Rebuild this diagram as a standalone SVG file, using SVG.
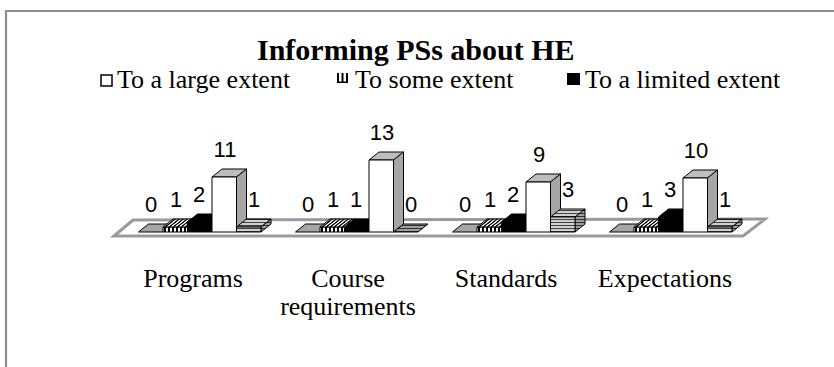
<svg xmlns="http://www.w3.org/2000/svg" width="834" height="367" viewBox="0 0 834 367">
  <defs>
    <pattern id="vstripe" patternUnits="userSpaceOnUse" width="4" height="4">
      <rect width="4" height="4" fill="#fff"/>
      <rect width="2" height="4" fill="#000"/>
    </pattern>
    <!-- same stripes, sheared to run along the depth direction of top faces -->
    <pattern id="vstripeTop" patternUnits="userSpaceOnUse" width="4" height="4" patternTransform="skewX(-51.34)">
      <rect width="4" height="4" fill="#fff"/>
      <rect width="2" height="4" fill="#000"/>
    </pattern>
    <pattern id="hstripe" patternUnits="userSpaceOnUse" width="4" height="3">
      <rect width="4" height="3" fill="#d0d0d0"/>
      <rect width="4" height="1" fill="#404040"/>
    </pattern>
    <pattern id="hstripeDark" patternUnits="userSpaceOnUse" width="4" height="3">
      <rect width="4" height="3" fill="#a0a0a0"/>
      <rect width="4" height="1" fill="#303030"/>
    </pattern>
  </defs>
  <style>
    .frame { fill: none; stroke: #8e8e8e; stroke-width: 2.2; }
    .title { font-family: "Liberation Serif", "Times New Roman", serif; font-size: 30px; font-weight: bold; fill: #000; }
    .leg { font-family: "Liberation Serif", "Times New Roman", serif; font-size: 26px; fill: #000; }
    .cat { font-family: "Liberation Serif", "Times New Roman", serif; font-size: 26px; fill: #000; text-anchor: middle; }
    .val { font-family: "Liberation Sans", Arial, sans-serif; font-size: 22px; fill: #000; text-anchor: middle; }
    .floor { fill: #fff; stroke: #9a9a9a; stroke-width: 3; stroke-linejoin: miter; }
    .edge { stroke: #000; stroke-width: 1; stroke-linejoin: round; }
    .zero { fill: #a6a6a6; }
    .some { fill: url(#vstripe); }
    .some-top { fill: url(#vstripeTop); }
    .limited { fill: #000; }
    .large-front { fill: #fff; }
    .large-top { fill: #bdbdbd; }
    .large-side { fill: #a6a6a6; }
    .other { fill: url(#hstripe); }
    .other-side { fill: url(#hstripeDark); }
  </style>

  <!-- chart area border -->
  <path class="frame" d="M6,367 V11 H834"/>

  <g id="title">
    <text class="title" x="257" y="60">Informing PSs about HE</text>
  </g>

  <g id="legend">
    <rect x="101" y="75" width="11" height="11" fill="#fff" stroke="#000" stroke-width="1.5"/>
    <text class="leg" x="117" y="88">To a large extent</text>
    <g fill="#000">
      <rect x="337" y="73" width="2" height="10"/>
      <rect x="341.5" y="73" width="2" height="10"/>
      <rect x="346" y="73" width="2" height="10"/>
      <rect x="337" y="81.5" width="11" height="1.5"/>
    </g>
    <text class="leg" x="355" y="88">To some extent</text>
    <rect x="567" y="73" width="13" height="12" fill="#000"/>
    <text class="leg" x="585" y="88">To a limited extent</text>
  </g>

  <!-- floor of the 3D plot -->
  <g id="floor">
    <polygon class="floor" points="114,236 133,220 765,219 743,236"/>
  </g>

  <!-- Programs: 0, 1, 2, 11, 1 -->
  <g id="cat-programs" transform="translate(212,0)">
    <polygon class="zero edge" points="-73.5,232 -63.5,224 -39,224 -49,232"/>
    <rect class="some edge" x="-49" y="227" width="24.5" height="5"/>
    <polygon class="some-top edge" points="-49,227 -39,219 -14.5,219 -24.5,227"/>
    <polygon class="limited edge" points="-24.5,222 -14.5,214 10,214 0,222 0,232 -24.5,232"/>
    <polygon class="large-top edge" points="0,177 10,169 34.5,169 24.5,177"/>
    <polygon class="large-side edge" points="24.5,177 34.5,169 34.5,224 24.5,232"/>
    <rect class="large-front edge" x="0" y="177" width="24.5" height="55"/>
    <polygon class="other edge" points="24.5,227 34.5,219 59,219 49,227"/>
    <polygon class="other-side edge" points="49,227 59,219 59,224 49,232"/>
    <rect class="other edge" x="24.5" y="227" width="24.5" height="5"/>
    <text class="val" x="-61" y="212">0</text>
    <text class="val" x="-36" y="207">1</text>
    <text class="val" x="-13" y="202">2</text>
    <text class="val" x="13" y="157">11</text>
    <text class="val" x="42" y="207">1</text>
    <text class="cat" x="-19" y="287">Programs</text>
  </g>

  <!-- Course requirements: 0, 1, 1, 13, 0 -->
  <g id="cat-course" transform="translate(369,0)">
    <polygon class="zero edge" points="-73.5,232 -63.5,224 -39,224 -49,232"/>
    <rect class="some edge" x="-49" y="227" width="24.5" height="5"/>
    <polygon class="some-top edge" points="-49,227 -39,219 -14.5,219 -24.5,227"/>
    <polygon class="limited edge" points="-24.5,227 -14.5,219 10,219 0,227 0,232 -24.5,232"/>
    <polygon class="large-top edge" points="0,160 10,152 34.5,152 24.5,160"/>
    <polygon class="large-side edge" points="24.5,160 34.5,152 34.5,224 24.5,232"/>
    <rect class="large-front edge" x="0" y="160" width="24.5" height="72"/>
    <polygon class="other-side edge" points="24.5,232 34.5,224 59,224 49,232"/>
    <text class="val" x="-61" y="212">0</text>
    <text class="val" x="-36" y="207">1</text>
    <text class="val" x="-13" y="207">1</text>
    <text class="val" x="13" y="140">13</text>
    <text class="val" x="42" y="212">0</text>
    <text class="cat" x="-21" y="287">Course</text>
    <text class="cat" x="-21" y="315">requirements</text>
  </g>

  <!-- Standards: 0, 1, 2, 9, 3 -->
  <g id="cat-standards" transform="translate(526,0)">
    <polygon class="zero edge" points="-73.5,232 -63.5,224 -39,224 -49,232"/>
    <rect class="some edge" x="-49" y="227" width="24.5" height="5"/>
    <polygon class="some-top edge" points="-49,227 -39,219 -14.5,219 -24.5,227"/>
    <polygon class="limited edge" points="-24.5,222 -14.5,214 10,214 0,222 0,232 -24.5,232"/>
    <polygon class="large-top edge" points="0,182 10,174 34.5,174 24.5,182"/>
    <polygon class="large-side edge" points="24.5,182 34.5,174 34.5,224 24.5,232"/>
    <rect class="large-front edge" x="0" y="182" width="24.5" height="50"/>
    <polygon class="other edge" points="24.5,217 34.5,209 59,209 49,217"/>
    <polygon class="other-side edge" points="49,217 59,209 59,224 49,232"/>
    <rect class="other edge" x="24.5" y="217" width="24.5" height="15"/>
    <text class="val" x="-61" y="212">0</text>
    <text class="val" x="-36" y="207">1</text>
    <text class="val" x="-13" y="202">2</text>
    <text class="val" x="13" y="162">9</text>
    <text class="val" x="42" y="197">3</text>
    <text class="cat" x="-20" y="287">Standards</text>
  </g>

  <!-- Expectations: 0, 1, 3, 10, 1 -->
  <g id="cat-expectations" transform="translate(683,0)">
    <polygon class="zero edge" points="-73.5,232 -63.5,224 -39,224 -49,232"/>
    <rect class="some edge" x="-49" y="227" width="24.5" height="5"/>
    <polygon class="some-top edge" points="-49,227 -39,219 -14.5,219 -24.5,227"/>
    <polygon class="limited edge" points="-24.5,217 -14.5,209 10,209 0,217 0,232 -24.5,232"/>
    <polygon class="large-top edge" points="0,178 10,170 34.5,170 24.5,178"/>
    <polygon class="large-side edge" points="24.5,178 34.5,170 34.5,224 24.5,232"/>
    <rect class="large-front edge" x="0" y="178" width="24.5" height="54"/>
    <polygon class="other edge" points="24.5,227 34.5,219 59,219 49,227"/>
    <polygon class="other-side edge" points="49,227 59,219 59,224 49,232"/>
    <rect class="other edge" x="24.5" y="227" width="24.5" height="5"/>
    <text class="val" x="-61" y="212">0</text>
    <text class="val" x="-36" y="207">1</text>
    <text class="val" x="-13" y="197">3</text>
    <text class="val" x="13" y="158">10</text>
    <text class="val" x="42" y="207">1</text>
    <text class="cat" x="-18" y="287">Expectations</text>
  </g>
</svg>
